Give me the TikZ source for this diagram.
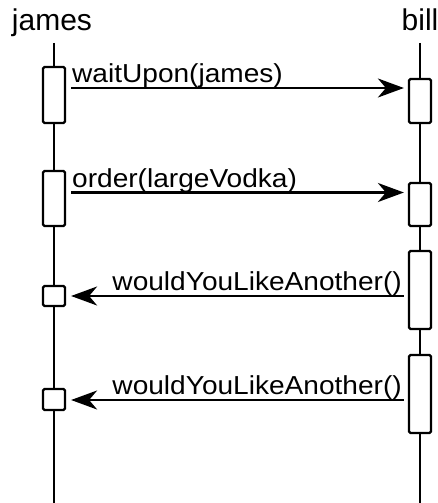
\documentclass[tikz,border=0pt]{standalone}
\usepackage{fontspec}
\setmainfont{Liberation Sans}
\newfontfamily\lblfont[FakeStretch=1.08]{Liberation Sans}
\usetikzlibrary{arrows.meta}
\begin{document}
\begin{tikzpicture}[x=1pt,y=-1pt,
  lifeline/.style={line width=2.2pt},
  actbox/.style={draw,fill=white,line width=2.2pt,rounded corners=1.5pt,inner sep=0pt,minimum width=22pt},
  msg/.style={line width=2.2pt,-{Stealth[length=26pt,width=19pt,inset=8pt]}},
  headname/.style={font=\fontsize{30}{30}\selectfont,anchor=base,inner sep=0pt},
  msglabel/.style={font=\lblfont\fontsize{26}{26}\selectfont,inner sep=0pt}]
\useasboundingbox (0,0) rectangle (437,503);
% participant names
\node[headname] (james) at (52,31) {james};
\node[headname] (bill) at (420,31) {bill};
% lifeline ends
\coordinate (jtop) at (54,43);
\coordinate (jbot) at (54,503);
\coordinate (btop) at (420,43);
\coordinate (bbot) at (420,503);
\draw[lifeline] (jtop) -- (jbot);
\draw[lifeline] (btop) -- (bbot);
% activation boxes
\node[actbox,minimum height=56pt] (J1) at (54,95) {};
\node[actbox,minimum height=55pt] (J2) at (54,198.5) {};
\node[actbox,minimum height=20pt] (J3) at (54,296) {};
\node[actbox,minimum height=21pt] (J4) at (54,399.5) {};
\node[actbox,minimum height=44pt] (B1) at (420,101) {};
\node[actbox,minimum height=43pt] (B2) at (420,204.5) {};
\node[actbox,minimum height=78pt] (B3) at (420,290) {};
\node[actbox,minimum height=78pt] (B4) at (420,394) {};
% message heights
\coordinate (m1) at (0,88);
\coordinate (m2) at (0,192.5);
\coordinate (m3) at (0,296);
\coordinate (m4) at (0,400);
% messages
\draw[msg,shorten <=5pt,shorten >=4pt] (J1.east |- m1) -- (B1.west |- m1);
\draw[msg,shorten <=5pt,shorten >=4pt] (J2.east |- m2) -- (B2.west |- m2);
\draw[msg,shorten <=4pt,shorten >=5pt] (B3.west |- m3) -- (J3.east |- m3);
\draw[msg,shorten <=4pt,shorten >=5pt] (B4.west |- m4) -- (J4.east |- m4);
% labels
\node[msglabel,anchor=base west] (l1) at (72,82.5) {waitUpon(james)};
\node[msglabel,anchor=base west] (l2) at (72,187) {order(largeVodka)};
\node[msglabel,anchor=base east] (l3) at (402,290) {wouldYouLikeAnother()};
\node[msglabel,anchor=base east] (l4) at (402,394) {wouldYouLikeAnother()};
\end{tikzpicture}
\end{document}
